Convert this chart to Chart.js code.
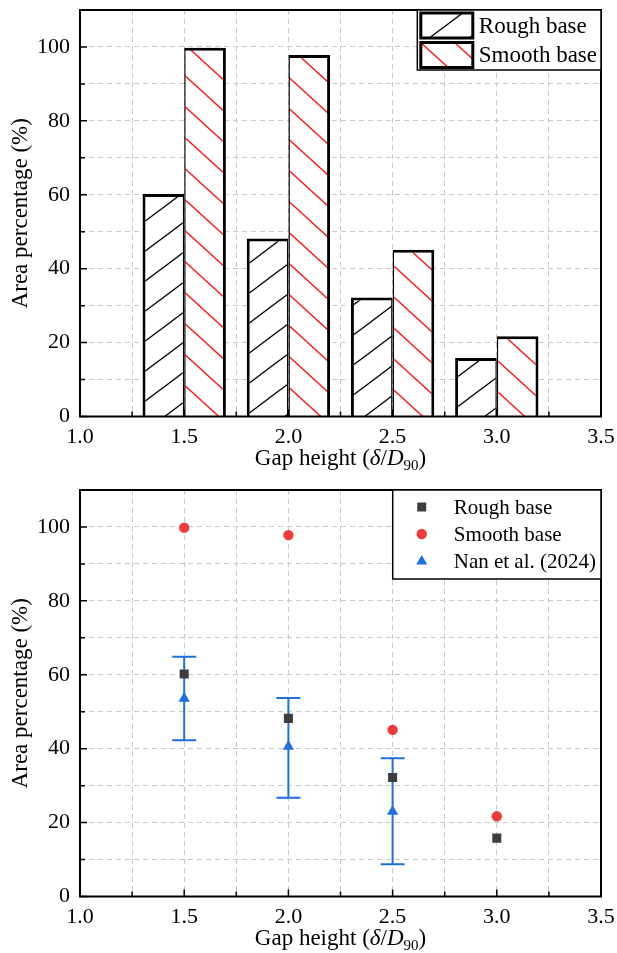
<!DOCTYPE html>
<html>
<head>
<meta charset="utf-8">
<script src="https://cdn.jsdelivr.net/npm/chart.js@4.4.0/dist/chart.umd.min.js"></script>
<style>
html, body { margin: 0; padding: 0; background: #fff; }
#wrap { position: relative; width: 617px; height: 953px; }
canvas { position: absolute; left: 0; }
</style>
</head>
<body>
<div id="wrap">
	<canvas id="area_bar_chart" width="617" height="470" style="top:0px"></canvas>
	<canvas id="area_point_chart" width="617" height="483" style="top:470px"></canvas>
</div>
<script>
// ---------------------------------------------------------------
// data
const gapHeight = [1.5, 2.0, 2.5, 3.0];          // delta / D90
const roughBase = [60.2, 48.2, 32.2, 15.8];      // area percentage (%)
const smoothBase = [99.8, 97.8, 45.1, 21.7];
const nanGap = [1.5, 2.0, 2.5];                  // Nan et al. (2024)
const nanMean = [53.6, 40.6, 23.0];
const nanLow = [42.3, 26.7, 8.7];
const nanHigh = [64.9, 53.7, 37.4];
const xLabels = [1.0, 1.5, 2.0, 2.5, 3.0, 3.5];  // labelled x ticks
const yLabels = [0, 20, 40, 60, 80, 100];        // labelled y ticks
// ---------------------------------------------------------------

const FONT = '"Liberation Serif", "Times New Roman", serif';
const GRID = '#c9c9c9';
const ROUGH_PT = '#3d3d3d';
const SMOOTH_PT = '#ef3b3b';
const NAN_PT = '#1f6fdc';

// hatch fill for the bars: dir 1 = '/', dir -1 = '\'
function makeHatch(color, w, h, dir) {
	const c = document.createElement('canvas');
	c.width = w; c.height = h;
	const g = c.getContext('2d');
	g.fillStyle = '#fff';
	g.fillRect(0, 0, w, h);
	g.strokeStyle = color;
	g.lineWidth = 1.4;
	g.beginPath();
	for (const k of [-1, 0, 1]) {
		if (dir > 0) { g.moveTo(-w, 2 * h + k * h); g.lineTo(2 * w, -h + k * h); }
		else { g.moveTo(-w, -h + k * h); g.lineTo(2 * w, 2 * h + k * h); }
	}
	g.stroke();
	return g.createPattern(c, 'repeat');
}
const roughHatch = makeHatch('#000', 40, 30, 1);
const smoothHatch = makeHatch('#ff1a1a', 34, 31, -1);

// keep the plot box fixed: no extra inner padding from overflowing labels
function noPad(s) {
	s.paddingLeft = 0; s.paddingRight = 0; s.paddingTop = 0; s.paddingBottom = 0;
}

function xScale(height) {
	return {
		type: 'linear', min: 1.0, max: 3.5, offset: false,
		ticks: {
			stepSize: 0.25, autoSkip: false, maxRotation: 0, padding: 8, color: '#000',
			font: { family: FONT, size: 22 },
			callback: v => xLabels.includes(v) ? v.toFixed(1) : ''
		},
		grid: { color: GRID, lineWidth: 1, drawTicks: false, offset: false, borderDash: [5, 4] },
		border: { display: false, dash: [5, 4] },
		afterFit: s => { s.height = height; noPad(s); }
	};
}

function yScale() {
	return {
		min: 0, max: 110,
		ticks: {
			stepSize: 10, autoSkip: false, padding: 10, color: '#000',
			font: { family: FONT, size: 22 },
			callback: v => v > 100 ? null : (yLabels.includes(v) ? String(v) : '')
		},
		grid: { color: GRID, lineWidth: 1, drawTicks: false, borderDash: [5, 4] },
		border: { display: false, dash: [5, 4] },
		title: {
			display: true, text: 'Area percentage (%)', color: '#000',
			font: { family: FONT, size: 23 }, padding: { top: 7, bottom: 0 }
		},
		afterFit: s => { s.width = 80; noPad(s); }
	};
}

// box round the plot plus inward tick marks
const framePlugin = {
	id: 'frame',
	afterDatasetsDraw(chart) {
		const { ctx, chartArea: a, scales: { x, y } } = chart;
		ctx.save();
		ctx.strokeStyle = '#000';
		ctx.lineWidth = 1.5;
		ctx.beginPath();
		x.ticks.forEach((t, i) => {
			const px = x.getPixelForTick(i);
			const len = xLabels.includes(t.value) ? 7 : 5;
			ctx.moveTo(px, a.bottom); ctx.lineTo(px, a.bottom - len);
		});
		y.ticks.forEach((t, i) => {
			const py = y.getPixelForTick(i);
			const len = yLabels.includes(t.value) ? 7 : 5;
			ctx.moveTo(a.left, py); ctx.lineTo(a.left + len, py);
		});
		ctx.stroke();
		ctx.lineWidth = 2;
		ctx.strokeRect(a.left, a.top, a.right - a.left, a.bottom - a.top);
		ctx.restore();
	}
};

// x title with italic delta / D and subscript 90
const xTitlePlugin = {
	id: 'xTitle',
	afterDraw(chart) {
		const { ctx, chartArea: a } = chart;
		const parts = [
			['Gap height (', 'normal', 23, 0],
			['\u03b4', 'italic', 23, 0],
			['/', 'normal', 23, 0],
			['D', 'italic', 23, 0],
			['90', 'normal', 15, 5],
			[')', 'normal', 23, 0]
		];
		ctx.save();
		let total = 0;
		parts.forEach(p => { ctx.font = p[1] + ' ' + p[2] + 'px ' + FONT; total += ctx.measureText(p[0]).width; });
		let px = (a.left + a.right) / 2 - total / 2;
		const base = a.bottom + 48;
		ctx.fillStyle = '#000';
		ctx.textBaseline = 'alphabetic';
		parts.forEach(p => {
			ctx.font = p[1] + ' ' + p[2] + 'px ' + FONT;
			ctx.fillText(p[0], px, base + p[3]);
			px += ctx.measureText(p[0]).width;
		});
		ctx.restore();
	}
};

// legend of the bar chart, hatched swatches stacked in the top-right corner
const barLegendPlugin = {
	id: 'barLegend',
	afterDraw(chart) {
		const { ctx, chartArea: a } = chart;
		const items = chart.data.datasets;
		ctx.save();
		ctx.font = '23px ' + FONT;
		const textW = Math.max(...items.map(d => ctx.measureText(d.label).width));
		const sw = 52, sh = 25, rowH = 29.5;
		const w = 3.5 + sw + 6 + textW + 4, h = 60;
		const x0 = a.right - w, y0 = a.top;
		ctx.fillStyle = '#fff';
		ctx.fillRect(x0, y0, w, h);
		ctx.strokeStyle = '#000';
		ctx.lineWidth = 1.5;
		ctx.strokeRect(x0, y0, w, h);
		items.forEach((d, i) => {
			const sx = x0 + 3.5, sy = y0 + 3 + i * rowH;
			ctx.fillStyle = d.backgroundColor;
			ctx.fillRect(sx, sy, sw, sh);
			ctx.lineWidth = 3;
			ctx.strokeRect(sx, sy, sw, sh);
			ctx.fillStyle = '#000';
			ctx.textBaseline = 'middle';
			ctx.fillText(d.label, sx + sw + 6, sy + sh / 2 + 1);
		});
		ctx.restore();
	}
};

function drawMarker(ctx, style, x, y, color) {
	ctx.fillStyle = color;
	ctx.beginPath();
	if (style === 'rect') ctx.rect(x - 4.5, y - 4.5, 9, 9);
	else if (style === 'circle') ctx.arc(x, y, 5.2, 0, Math.PI * 2);
	else { ctx.moveTo(x, y - 6); ctx.lineTo(x + 5.5, y + 3.5); ctx.lineTo(x - 5.5, y + 3.5); ctx.closePath(); }
	ctx.fill();
}

// legend of the point chart
const pointLegendPlugin = {
	id: 'pointLegend',
	afterDraw(chart) {
		const { ctx, chartArea: a } = chart;
		const items = chart.data.datasets;
		ctx.save();
		ctx.font = '21px ' + FONT;
		const textW = Math.max(...items.map(d => ctx.measureText(d.label).width));
		const w = 61 + textW + 5, h = 89;
		const x0 = a.right - w, y0 = a.top;
		ctx.fillStyle = '#fff';
		ctx.fillRect(x0, y0, w, h);
		ctx.strokeStyle = '#000';
		ctx.lineWidth = 1.5;
		ctx.strokeRect(x0, y0, w, h);
		items.forEach((d, i) => {
			const ry = y0 + 17 + i * 27;
			drawMarker(ctx, d.pointStyle, x0 + 29, ry, d.backgroundColor);
			ctx.fillStyle = '#000';
			ctx.textBaseline = 'middle';
			ctx.fillText(d.label, x0 + 61, ry + 1);
		});
		ctx.restore();
	}
};

// error bars of Nan et al. (2024)
const errorBarPlugin = {
	id: 'errorBars',
	beforeDatasetsDraw(chart) {
		const { ctx, scales: { x, y } } = chart;
		ctx.save();
		ctx.strokeStyle = NAN_PT;
		ctx.lineWidth = 2;
		ctx.beginPath();
		nanGap.forEach((g, i) => {
			const px = x.getPixelForValue(g);
			const top = y.getPixelForValue(nanHigh[i]);
			const bot = y.getPixelForValue(nanLow[i]);
			ctx.moveTo(px, top); ctx.lineTo(px, bot);
			ctx.moveTo(px - 12, top); ctx.lineTo(px + 12, top);
			ctx.moveTo(px - 12, bot); ctx.lineTo(px + 12, bot);
		});
		ctx.stroke();
		ctx.restore();
	}
};

//----------------------------------------------------------------------
// top: hatched bars
new Chart(document.getElementById('area_bar_chart').getContext('2d'), {
	type: 'bar',
	data: {
		datasets: [{
			label: 'Rough base',
			data: gapHeight.map((g, i) => ({ x: g, y: roughBase[i] })),
			backgroundColor: roughHatch,
			borderColor: '#000',
			borderWidth: { top: 3, left: 3, right: 1.5, bottom: 0 }
		}, {
			label: 'Smooth base',
			data: gapHeight.map((g, i) => ({ x: g, y: smoothBase[i] })),
			backgroundColor: smoothHatch,
			borderColor: '#000',
			borderWidth: { top: 3, left: 1.5, right: 3, bottom: 0 }
		}]
	},
	options: {
		responsive: false,
		animation: false,
		events: [],
		categoryPercentage: 1.6,
		barPercentage: 1.0,
		layout: { padding: { top: 10, right: 16, left: 0, bottom: 0 } },
		scales: { x: xScale(53.5), y: yScale() },
		plugins: { legend: { display: false }, tooltip: { enabled: false } }
	},
	plugins: [framePlugin, xTitlePlugin, barLegendPlugin]
});

//----------------------------------------------------------------------
// bottom: points with error bars
new Chart(document.getElementById('area_point_chart').getContext('2d'), {
	type: 'scatter',
	data: {
		datasets: [{
			label: 'Rough base',
			data: gapHeight.map((g, i) => ({ x: g, y: roughBase[i] })),
			pointStyle: 'rect', pointRadius: 6.4, borderWidth: 0,
			backgroundColor: ROUGH_PT, borderColor: ROUGH_PT
		}, {
			label: 'Smooth base',
			data: gapHeight.map((g, i) => ({ x: g, y: smoothBase[i] })),
			pointStyle: 'circle', pointRadius: 5.2, borderWidth: 0,
			backgroundColor: SMOOTH_PT, borderColor: SMOOTH_PT
		}, {
			label: 'Nan et al. (2024)',
			data: nanGap.map((g, i) => ({ x: g, y: nanMean[i] })),
			pointStyle: 'triangle', pointRadius: 6.5, borderWidth: 0,
			backgroundColor: NAN_PT, borderColor: NAN_PT
		}]
	},
	options: {
		responsive: false,
		animation: false,
		events: [],
		layout: { padding: { top: 20, right: 16, left: 0, bottom: 0 } },
		scales: { x: xScale(56.5), y: yScale() },
		plugins: { legend: { display: false }, tooltip: { enabled: false } }
	},
	plugins: [errorBarPlugin, framePlugin, xTitlePlugin, pointLegendPlugin]
});
</script>
</body>
</html>
